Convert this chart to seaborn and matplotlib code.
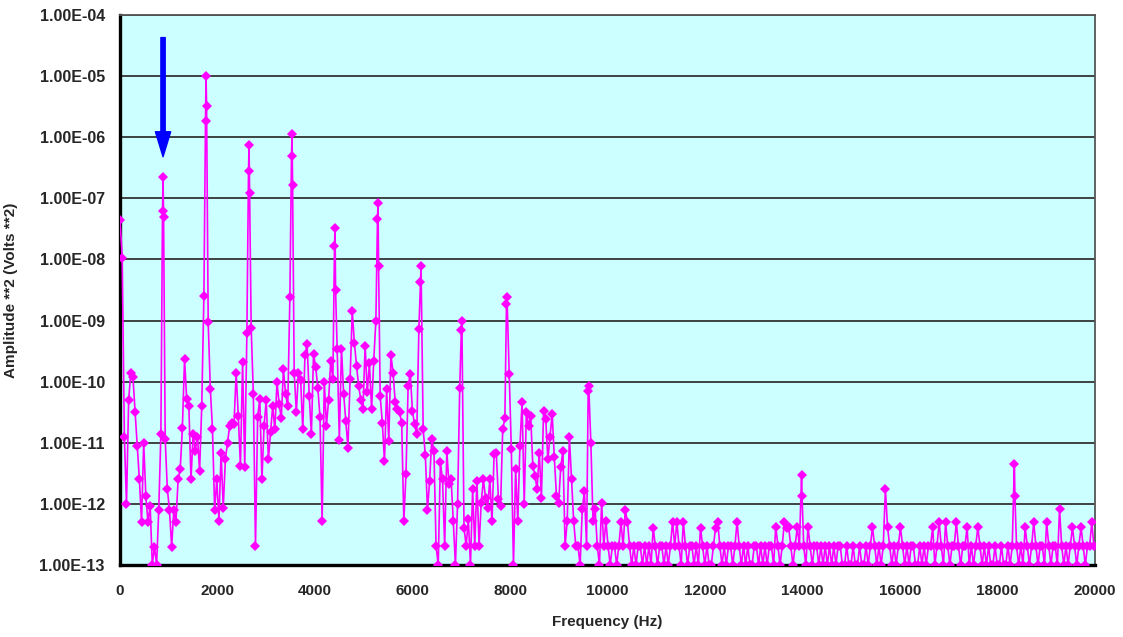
import numpy as np
import pandas as pd
import matplotlib
matplotlib.use("Agg")
import matplotlib.pyplot as plt
from matplotlib.ticker import FuncFormatter, FixedLocator, NullLocator
import seaborn as sns

# ---------------- data: log10(Amplitude**2) per 44.1 Hz bin ----------------
BIN_HZ = 44.1
log_bins_000_049 = [-7.35, -7.97, -10.9, -12.0, -10.3, -9.85, -9.93, -10.5, -11.05, -11.6,
                    -12.3, -11.0, -11.87, -12.3, -12.03, -13.0, -12.7, -13.0, -12.1, -10.85,
                    -6.65, -10.94, -11.76, -12.1, -12.7, -12.1, -12.3, -11.6, -11.43, -10.75,
                    -9.63, -10.28, -10.4, -11.6, -10.86, -11.13, -10.9, -11.46, -10.4, -8.6,
                    -5.0, -9.03, -10.12, -10.78, -12.1, -11.6, -12.28, -11.16, -12.06, -11.27]
log_bins_050_099 = [-11.0, -10.72, -10.67, -10.7, -9.85, -10.56, -11.38, -9.68, -11.39, -9.2,
                    -6.12, -9.13, -10.2, -12.69, -10.58, -10.28, -11.6, -10.72, -10.3, -11.27,
                    -10.83, -10.4, -10.78, -10.0, -10.37, -10.6, -9.8, -10.2, -10.4, -8.62,
                    -5.95, -9.85, -10.5, -9.85, -9.98, -10.78, -9.57, -9.38, -10.23, -10.86,
                    -9.55, -9.76, -10.1, -10.58, -12.28, -10.0, -10.72, -10.3, -9.66, -9.96]
log_bins_100_149 = [-7.48, -9.47, -10.95, -9.46, -10.2, -10.64, -11.08, -9.96, -8.85, -9.36,
                    -9.74, -10.07, -10.3, -10.45, -9.41, -10.17, -9.7, -10.45, -9.66, -9.0,
                    -7.08, -10.23, -10.67, -11.3, -10.12, -10.97, -9.57, -9.85, -10.34, -10.45,
                    -10.5, -10.67, -12.28, -11.51, -10.07, -9.87, -10.48, -10.7, -10.86, -9.14,
                    -8.11, -10.78, -11.2, -12.1, -11.62, -10.94, -11.13, -12.69, -13.0, -11.32]
log_bins_150_199 = [-11.6, -12.69, -11.13, -11.68, -11.6, -12.28, -13.0, -12.0, -10.1, -9.0,
                    -12.39, -12.69, -12.25, -13.0, -11.76, -12.69, -11.62, -12.69, -11.98, -11.6,
                    -11.9, -12.06, -11.6, -12.28, -11.19, -11.16, -11.92, -12.03, -10.78, -10.6,
                    -8.62, -9.88, -11.1, -13.0, -11.43, -12.28, -11.05, -10.34, -12.0, -10.5,
                    -10.72, -10.56, -11.38, -11.54, -11.76, -11.16, -11.9, -10.48, -10.61, -11.27]
log_bins_200_249 = [-10.9, -10.53, -11.24, -11.87, -11.98, -11.4, -11.13, -12.69, -12.28, -10.9,
                    -11.6, -12.28, -12.69, -12.69, -13.0, -12.09, -11.79, -12.69, -10.07, -11.0,
                    -12.28, -12.09, -12.69, -13.0, -11.98, -12.69, -12.28, -12.69, -13.0, -12.69,
                    -12.69, -13.0, -12.69, -12.3, -12.69, -12.1, -12.29, -12.69, -13.0, -12.69,
                    -13.0, -12.69, -12.69, -13.0, -12.69, -13.0, -12.69, -13.0, -12.39, -12.69]
log_bins_250_349 = [-13, -12.69, -12.69, -13, -12.69, -13, -12.69, -12.29, -12.69, -12.29,
                    -12.69, -13, -12.29, -12.69, -13, -12.69, -12.69, -13, -12.69, -13,
                    -12.39, -12.69, -13, -12.69, -13, -13, -12.69, -12.39, -12.29, -12.69,
                    -13, -12.69, -13, -12.69, -12.69, -13, -12.69, -12.29, -12.69, -13,
                    -12.69, -13, -12.69, -13, -13, -12.69, -12.69, -13, -12.69, -13,
                    -12.69, -13, -12.69, -12.69, -13, -12.37, -12.69, -13, -12.69, -12.29,
                    -12.39, -12.38, -12.69, -13, -12.69, -12.38, -12.69, -11.53, -12.69, -13,
                    -12.38, -12.69, -13, -12.69, -12.69, -13, -12.69, -13, -12.69, -13,
                    -12.69, -13, -12.69, -13, -12.69, -12.69, -13, -13, -12.69, -13,
                    -13, -12.69, -13, -13, -12.69, -13, -13, -12.69, -13, -12.69]
log_bins_350_453 = [-12.38, -12.69, -13, -12.69, -13, -12.69, -11.76, -12.38, -12.69, -13,
                    -12.69, -13, -12.69, -12.38, -12.69, -13, -12.69, -13, -12.69, -12.69,
                    -13, -13, -12.69, -13, -12.69, -13, -12.69, -12.69, -12.38, -13,
                    -12.69, -12.3, -12.69, -13, -12.3, -12.69, -13, -12.69, -12.69, -12.3,
                    -12.69, -13, -12.69, -12.69, -12.38, -13, -12.69, -13, -12.69, -12.38,
                    -12.69, -13, -12.69, -13, -12.69, -13, -13, -12.69, -13, -13,
                    -12.69, -13, -13, -12.69, -13, -12.69, -11.34, -12.69, -13, -12.69,
                    -13, -12.38, -12.69, -13, -12.69, -12.3, -12.69, -13, -12.69, -12.69,
                    -13, -12.3, -12.69, -13, -12.69, -12.69, -13, -12.08, -12.69, -13,
                    -12.69, -13, -12.69, -12.38, -12.69, -13, -12.69, -12.38, -12.69, -13,
                    -12.69, -12.69, -12.3, -12.69]

# extra samples stacked beside the harmonic peaks
extra_hz = [871, 893, 1753, 1775, 2635, 2657, 3517, 3539, 4399, 4421,
            5281, 5303, 6163, 7001, 7927, 9603, 13990, 18356]
extra_log = [-7.2, -7.31, -5.73, -5.49, -6.56, -6.91, -6.3, -6.78, -7.78, -8.5,
             -7.34, -8.1, -8.37, -9.16, -8.73, -10.15, -11.87, -11.87]

# arrow marking the fundamental
arrow_hz = 882
arrow_from = 10 ** -4.37
arrow_to = 10 ** -6.32

x_ticks = list(range(0, 20001, 2000))
y_ticks = [10.0 ** e for e in range(-13, -3)]

# ---------------- build table ----------------
all_log = (log_bins_000_049 + log_bins_050_099 + log_bins_100_149 + log_bins_150_199
           + log_bins_200_249 + log_bins_250_349 + log_bins_350_453)
base_hz = np.arange(len(all_log)) * BIN_HZ
df = pd.DataFrame({"freq": np.concatenate([base_hz, extra_hz]),
                   "logamp": np.concatenate([all_log, extra_log])})
df = df.sort_values("freq").reset_index(drop=True)
df["amp"] = 10.0 ** df["logamp"]

# ---------------- plot ----------------
sns.set_style("white")
plt.rcParams["font.family"] = ["Liberation Sans", "DejaVu Sans"]
plt.rcParams["font.weight"] = "bold"

fig = plt.figure(figsize=(11.23, 6.37), dpi=100)
ax = fig.add_axes([0.1069, 0.113, 0.8682, 0.8635])
ax.set_facecolor("#CCFFFF")

sns.lineplot(data=df, x="freq", y="amp", ax=ax, color="#FF00FF", estimator=None,
             sort=False, linewidth=1.2, marker="D", markersize=5.0,
             markeredgewidth=0, markerfacecolor="#FF00FF", zorder=3)

ax.set_yscale("log")
ax.set_ylim(1e-13, 1e-4)
ax.set_xlim(0, 20000)

ax.yaxis.set_major_locator(FixedLocator(y_ticks))
ax.yaxis.set_minor_locator(NullLocator())
ax.yaxis.set_major_formatter(FuncFormatter(lambda v, p: f"{v:.2E}"))
ax.xaxis.set_major_locator(FixedLocator(x_ticks))
ax.xaxis.set_major_formatter(FuncFormatter(lambda v, p: f"{int(v)}"))

ax.grid(axis="y", color="#333333", linewidth=1.3, zorder=1)
ax.grid(axis="x", visible=False)
ax.set_axisbelow(True)

for s in ["left", "bottom"]:
    ax.spines[s].set_color("black")
    ax.spines[s].set_linewidth(2.4)
for s in ["top", "right"]:
    ax.spines[s].set_color("#555555")
    ax.spines[s].set_linewidth(1.3)

ax.tick_params(axis="both", which="major", direction="out", length=5, width=1.5,
               color="black", labelsize=11.5)
ax.tick_params(axis="x", pad=9, labelsize=11)
ax.tick_params(axis="y", pad=6)
for lab in ax.get_xticklabels() + ax.get_yticklabels():
    lab.set_fontweight("bold")

ax.set_xlabel("Frequency (Hz)", fontsize=11, fontweight="bold", labelpad=12)
ax.set_ylabel("Amplitude **2 (Volts **2)", fontsize=11, fontweight="bold")
ax.yaxis.set_label_coords(-0.105, 0.5)

ax.annotate("", xy=(arrow_hz, arrow_to), xytext=(arrow_hz, arrow_from),
            arrowprops=dict(arrowstyle="simple,head_length=1.8,head_width=1.1,tail_width=0.31",
                            color="#0000FF", mutation_scale=10, shrinkA=0, shrinkB=0),
            zorder=5)

fig.savefig("out.png", dpi=100, facecolor="white")
